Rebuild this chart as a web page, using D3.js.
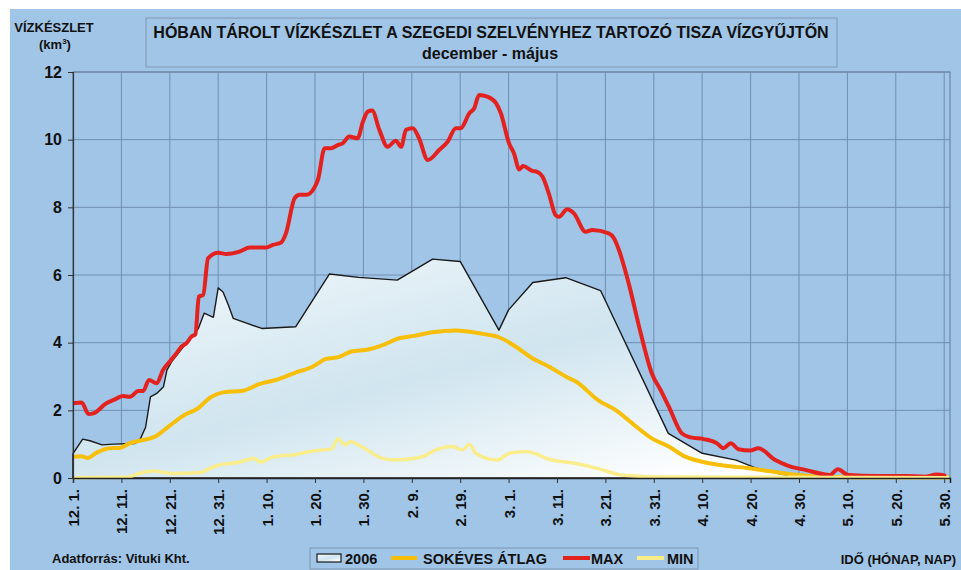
<!DOCTYPE html>
<html lang="hu">
<head>
<meta charset="UTF-8">
<title>Hóban tárolt vízkészlet</title>
<script src="https://d3js.org/d3.v7.min.js"></script>
<style>
    body { margin: 0; background: #fff; }
    svg text { font-family: "Liberation Sans", Arial, sans-serif; font-weight: bold; fill: #111; }
</style>
</head>
<body>
<svg width="961" height="570"></svg>
<script>
    // day index from Dec 1 (0) to May 30 (180)
    const tickDays = [0, 10, 20, 30, 40, 50, 60, 70, 80, 90, 100, 110, 120, 130, 140, 150, 160, 170, 180];
    const tickLabels = ["12. 1.", "12. 11.", "12. 21.", "12. 31.", "1. 10.", "1. 20.", "1. 30.", "2. 9.", "2. 19.",
        "3. 1.", "3. 11.", "3. 21.", "3. 31.", "4. 10.", "4. 20.", "4. 30.", "5. 10.", "5. 20.", "5. 30."];
    const yTicks = [0, 2, 4, 6, 8, 10, 12];

    // [day, km3]
    const series2006 = [[0,0.72],[2,1.15],[3.5,1.1],[6,0.98],[8.3,1.0],[12.8,1.02],[13.8,1.12],[15,1.5],[16,2.4],
        [17.3,2.5],[18.7,2.7],[19.4,3.19],[20.4,3.44],[22.8,3.88],[24.9,4.23],[25.9,4.42],[27.1,4.87],[29,4.75],
        [30,5.62],[31,5.5],[32.1,5.11],[33.1,4.72],[39,4.42],[46,4.47],[53,6.03],[59,5.93],[67,5.85],[74.3,6.47],
        [80,6.4],[88,4.37],[90,4.97],[95,5.78],[101.8,5.92],[109,5.54],[123,1.32],[130,0.73],[137,0.53],[141,0.3],
        [146,0.12],[150,0.03],[151,0]];

    const seriesAvg = [[0,0.63],[1.8,0.64],[3,0.59],[4.9,0.75],[7.6,0.88],[9.7,0.89],[11.8,1.03],[13.8,1.1],[16.9,1.22],
        [20,1.55],[23.2,1.88],[25.5,2.03],[28.6,2.4],[31,2.53],[35.1,2.58],[38.6,2.78],[42,2.9],[46.1,3.12],[49.5,3.29],
        [52.3,3.52],[55,3.58],[57.5,3.74],[61,3.8],[64,3.93],[67.4,4.13],[70.5,4.2],[74.3,4.31],[79.1,4.36],[84.6,4.26],
        [88,4.16],[91.5,3.88],[94.9,3.54],[98.4,3.29],[101.8,3.0],[103.9,2.85],[108.7,2.28],[112,2.02],[115.5,1.62],
        [119.5,1.18],[123.1,0.93],[126.5,0.63],[130,0.48],[134.8,0.36],[139.6,0.29],[144.4,0.19],[149.9,0.09],
        [156.7,0.03],[165,0.02],[181,0.02]];

    const seriesMax = [[0,2.21],[1.8,2.23],[3.2,1.89],[4.2,1.91],[6.9,2.21],[8.3,2.3],[10.4,2.42],[11.8,2.4],[13.5,2.57],
        [14.5,2.57],[15.7,2.9],[17.3,2.8],[18.6,3.19],[20,3.44],[21.4,3.69],[22.4,3.88],[23.4,3.98],[24.5,4.18],
        [25.3,4.25],[26,5.36],[26.9,5.41],[27.9,6.49],[30,6.66],[31.7,6.62],[34.4,6.69],[36.5,6.81],[39.9,6.81],
        [41.3,6.89],[43,6.96],[44,7.23],[45.8,8.27],[46.8,8.37],[48.2,8.37],[49.9,8.59],[50.6,8.81],[52,9.75],
        [53.3,9.75],[54.7,9.84],[55.7,9.89],[57.1,10.09],[58.8,10.04],[59.9,10.53],[60.9,10.83],[61.8,10.86],
        [63.3,10.29],[65,9.79],[66.7,9.97],[67.8,9.79],[68.8,10.29],[70.2,10.34],[71.5,10.04],[73.3,9.4],[75.7,9.7],
        [77.4,9.94],[79.1,10.34],[80.1,10.34],[81.9,10.78],[82.9,10.93],[83.9,11.32],[85.6,11.27],[87.4,11.08],
        [88.4,10.78],[90.1,9.89],[91.1,9.6],[92.2,9.12],[93,9.22],[94.9,9.08],[95.9,9.05],[97,8.91],[98.4,8.37],
        [99.7,7.77],[100.4,7.72],[102.1,7.94],[103.5,7.82],[105.9,7.28],[107.3,7.33],[110.7,7.23],[111.8,7.08],
        [112.8,6.74],[114.8,5.76],[117.3,4.28],[119.6,3.09],[121.4,2.6],[123.1,2.11],[125.8,1.32],[127.6,1.2],
        [130.3,1.15],[133,1.03],[134.4,0.88],[135.9,1.03],[137.5,0.85],[139.9,0.81],[141.6,0.88],[145.1,0.53],
        [147.8,0.36],[151.3,0.24],[156.4,0.09],[158,0.26],[160.2,0.09],[166,0.06],[172,0.06],[176,0.04],
        [178.4,0.1],[180.4,0.06]];

    const seriesMin = [[0,0.01],[11,0.02],[13.8,0.14],[16.6,0.21],[20.5,0.13],[26.5,0.16],[27.6,0.24],[30.6,0.4],
        [33.8,0.45],[37.5,0.58],[38.6,0.47],[41.3,0.62],[45.8,0.69],[49.5,0.8],[53.4,0.86],[54.8,1.16],[56.1,0.98],
        [57.3,1.07],[59.9,0.9],[64,0.58],[66.7,0.53],[72.2,0.63],[75,0.83],[78.4,0.93],[80.5,0.83],[81.9,1.0],
        [83.2,0.73],[87.7,0.53],[90.1,0.73],[93.5,0.78],[99,0.53],[103.9,0.43],[108.7,0.27],[112.8,0.1],[116,0.06],
        [122.4,0.03],[181,0.01]];

    const svg = d3.select("svg");
    const plotLeft = 73, plotRight = 950, plotTop = 72, plotBottom = 478;

    const x = d3.scaleLinear().domain([0, 181.2]).range([plotLeft, plotRight]);
    const y = d3.scaleLinear().domain([0, 12]).range([plotBottom, plotTop]);

    // background
    svg.append("rect").attr("x", 10).attr("y", 9).attr("width", 951).attr("height", 561).attr("fill", "#a0c5e7");

    const defs = svg.append("defs");
    const grad = defs.append("linearGradient").attr("id", "snow")
        .attr("x1", "0").attr("y1", "0").attr("x2", "0.85").attr("y2", "1");
    grad.append("stop").attr("offset", "0").attr("stop-color", "#f4f9fc");
    grad.append("stop").attr("offset", "0.55").attr("stop-color", "#d0e5ef");
    grad.append("stop").attr("offset", "1").attr("stop-color", "#ffffff");

    // gridlines
    svg.append("g").selectAll("line").data(tickDays).enter().append("line")
        .attr("x1", d => x(d)).attr("x2", d => x(d)).attr("y1", plotTop).attr("y2", plotBottom)
        .attr("stroke", "#6f8fb4").attr("stroke-width", 1);
    svg.append("g").selectAll("line").data(yTicks.slice(1)).enter().append("line")
        .attr("x1", plotLeft).attr("x2", plotRight).attr("y1", d => y(d)).attr("y2", d => y(d))
        .attr("stroke", "#6f8fb4").attr("stroke-width", 1);
    svg.append("rect").attr("x", plotLeft).attr("y", plotTop).attr("width", plotRight - plotLeft).attr("height", plotBottom - plotTop)
        .attr("fill", "none").attr("stroke", "#6f86a3").attr("stroke-width", 1.2);

    // 2006 area
    const area = d3.area().x(d => x(d[0])).y0(y(0)).y1(d => y(d[1]));
    svg.append("path").datum(series2006).attr("d", area)
        .attr("fill", "url(#snow)").attr("stroke", "#1a1a1a").attr("stroke-width", 1.4).attr("stroke-linejoin", "round");

    const line = d3.line().x(d => x(d[0])).y(d => y(d[1])).curve(d3.curveMonotoneX);
    svg.append("path").datum(seriesAvg).attr("d", line)
        .attr("fill", "none").attr("stroke", "#f7be0a").attr("stroke-width", 4).attr("stroke-linejoin", "round");
    svg.append("path").datum(seriesMax).attr("d", line)
        .attr("fill", "none").attr("stroke", "#e3221f").attr("stroke-width", 4).attr("stroke-linejoin", "round");
    svg.append("path").datum(seriesMin).attr("d", line)
        .attr("fill", "none").attr("stroke", "#f9ed8c").attr("stroke-width", 3.5).attr("stroke-linejoin", "round");

    // axes
    const yAxis = svg.append("g").attr("transform", `translate(${plotLeft},0)`)
        .call(d3.axisLeft(y).tickValues(yTicks).tickSize(5).tickPadding(6));
    yAxis.select(".domain").attr("stroke", "#333").attr("stroke-width", 1.2);
    yAxis.selectAll(".tick line").attr("stroke", "#333");
    yAxis.selectAll("text").attr("font-size", 16).attr("fill", "#111");

    const xAxis = svg.append("g").attr("transform", `translate(0,${plotBottom})`)
        .call(d3.axisBottom(x).tickValues(tickDays).tickSize(5).tickFormat((d, i) => tickLabels[i]));
    xAxis.select(".domain").attr("stroke", "#222").attr("stroke-width", 1.5);
    xAxis.selectAll(".tick line").attr("stroke", "#333");
    xAxis.selectAll("text")
        .attr("font-size", 15).attr("fill", "#111")
        .attr("text-anchor", "end")
        .attr("transform", "rotate(-90)")
        .attr("x", -11).attr("y", 0).attr("dy", "0.36em");
    svg.selectAll(".tick text").attr("font-family", "'Liberation Sans', Arial, sans-serif").attr("font-weight", "bold");

    // title box
    svg.append("rect").attr("x", 146).attr("y", 18).attr("width", 691).attr("height", 49)
        .attr("fill", "none").attr("stroke", "#8199b3").attr("stroke-width", 1);
    svg.append("text").attr("x", 491).attr("y", 38).attr("text-anchor", "middle").attr("font-size", 16)
        .text("HÓBAN TÁROLT VÍZKÉSZLET A SZEGEDI SZELVÉNYHEZ TARTOZÓ TISZA VÍZGYŰJTŐN");
    svg.append("text").attr("x", 490).attr("y", 59).attr("text-anchor", "middle").attr("font-size", 16)
        .text("december - május");

    // y title
    svg.append("text").attr("x", 54).attr("y", 32).attr("text-anchor", "middle").attr("font-size", 13).text("VÍZKÉSZLET");
    const unit = svg.append("text").attr("x", 55).attr("y", 49).attr("text-anchor", "middle").attr("font-size", 13);
    unit.append("tspan").text("(km");
    unit.append("tspan").attr("font-size", 8).attr("dy", -5).text("3");
    unit.append("tspan").attr("dy", 5).text(")");

    svg.append("text").attr("x", 52).attr("y", 563).attr("font-size", 13).text("Adatforrás: Vituki Kht.");
    svg.append("text").attr("x", 956).attr("y", 564).attr("text-anchor", "end").attr("font-size", 13).text("IDŐ (HÓNAP, NAP)");

    // legend
    const legend = svg.append("g");
    legend.append("rect").attr("x", 310).attr("y", 548).attr("width", 388).attr("height", 21)
        .attr("fill", "none").attr("stroke", "#7f97b2").attr("stroke-width", 1);
    legend.append("rect").attr("x", 317).attr("y", 554).attr("width", 24).attr("height", 8)
        .attr("fill", "url(#snow)").attr("stroke", "#1a1a1a").attr("stroke-width", 1.2);
    const legendItems = [
        { label: "2006", x: 345, line: null },
        { label: "SOKÉVES ÁTLAG", x: 423, line: [391, 417], color: "#f7be0a" },
        { label: "MAX", x: 591, line: [563, 590], color: "#e3221f" },
        { label: "MIN", x: 667, line: [637, 664], color: "#f9ed8c" }
    ];
    legendItems.forEach(it => {
        if (it.line) {
            legend.append("line").attr("x1", it.line[0]).attr("x2", it.line[1]).attr("y1", 558).attr("y2", 558)
                .attr("stroke", it.color).attr("stroke-width", 4);
        }
        legend.append("text").attr("x", it.x).attr("y", 564).attr("font-size", 14.5).text(it.label);
    });
</script>
</body>
</html>
